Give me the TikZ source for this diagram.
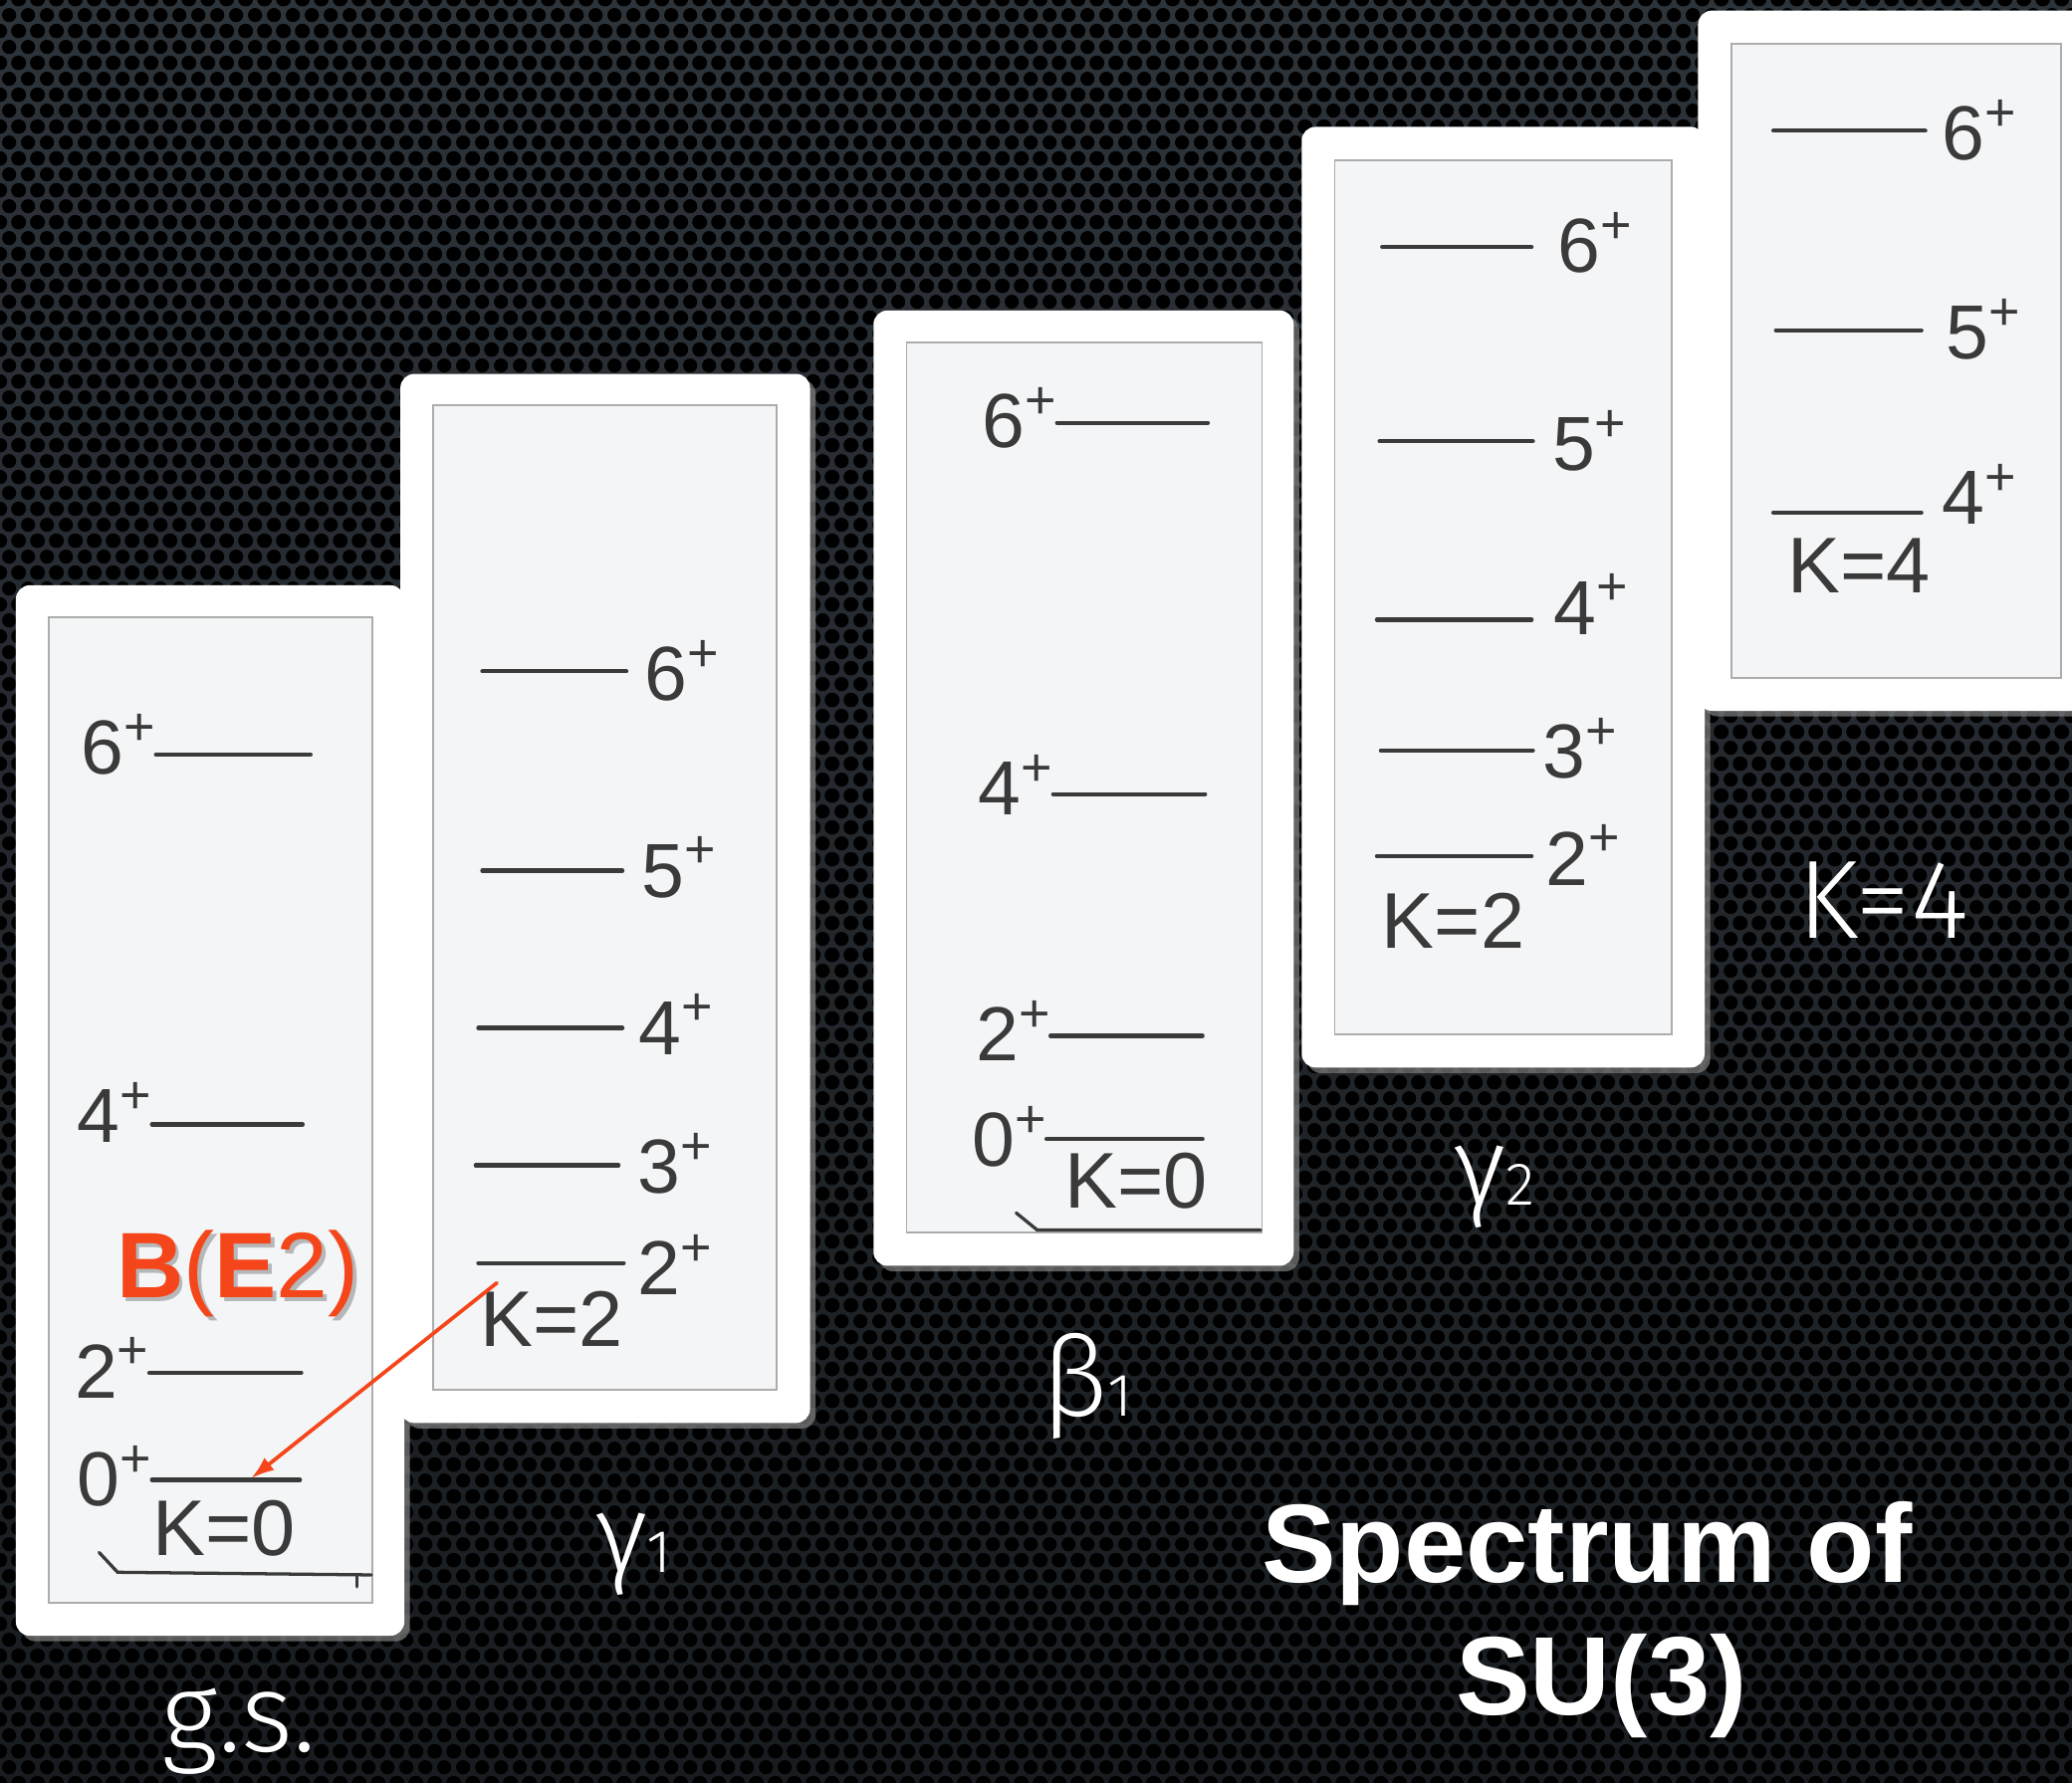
\documentclass[tikz,border=0pt]{standalone}
\usepackage{fontspec}
\setmainfont{Liberation Sans}
\IfFontExistsTF{Fira Sans Light}
    {\newfontfamily\thinfont{Fira Sans Light}}
    {\newfontfamily\thinfont{Liberation Sans}}
\usetikzlibrary{
    arrows.meta,
    calc,
    positioning,
    patterns,
    shadows
}

\definecolor{meshtop}{HTML}{2C3339}
\definecolor{meshbottom}{HTML}{181C20}
\definecolor{paper}{HTML}{F3F5F6}
\definecolor{ink}{HTML}{3A3A3A}
\definecolor{be2red}{HTML}{F5461B}

% perforated backdrop
\pgfdeclarepatternformonly{hexholes}
    {\pgfqpoint{0pt}{0pt}}
    {\pgfqpoint{4pt}{6.928pt}}
    {\pgfqpoint{4pt}{6.928pt}}
    {
        \pgfpathcircle{\pgfqpoint{0pt}{0pt}}{1.55pt}
        \pgfpathcircle{\pgfqpoint{4pt}{0pt}}{1.55pt}
        \pgfpathcircle{\pgfqpoint{0pt}{6.928pt}}{1.55pt}
        \pgfpathcircle{\pgfqpoint{4pt}{6.928pt}}{1.55pt}
        \pgfpathcircle{\pgfqpoint{2pt}{3.464pt}}{1.55pt}
        \pgfusepath{fill}
    }

\begin{document}
\begin{tikzpicture}[
    x=0.01cm,
    y=-0.01cm,
    >=Latex,
    line cap=round,
    panel/.style={fill=white, rounded corners=3pt,
        drop shadow={shadow xshift=1.2pt, shadow yshift=-1.2pt, opacity=0.7}},
    sheet/.style={fill=paper, draw=gray!65, line width=0.4pt},
    level/.style={draw=ink, line width=0.9pt},
    spin/.style={text=ink, inner sep=0pt, font=\fontsize{16.5}{18}\selectfont},
    kband/.style={text=ink, inner sep=0pt, font=\fontsize{17}{19}\selectfont},
    band/.style={text=white, inner sep=0pt, font=\thinfont\fontsize{24}{28}\selectfont},
    title/.style={text=white, inner sep=0pt, font=\bfseries\fontsize{24}{28}\selectfont},
    transition/.style={->, draw=be2red, line width=0.8pt,
        >={Latex[length=5pt,width=3.4pt]}}
]

\useasboundingbox (0,0) rectangle (1568,1349);

% -------------------------------------------------
% Backdrop
% -------------------------------------------------

\shade[top color=meshtop, bottom color=meshbottom]
    (0,0) rectangle (1568,1349);
\fill[pattern=hexholes, pattern color=black]
    (0,0) rectangle (1568,1349);

% -------------------------------------------------
% Ground state band
% -------------------------------------------------

\fill[panel] (12,443) rectangle (306,1238);
\filldraw[sheet] (37,467) rectangle (282,1213);

\draw[level] (118,571) coordinate (gs6l) -- (235,571) coordinate (gs6r);
\node[spin, anchor=base east] (gs6) at ($(gs6l)+(2,15)$) {6\textsuperscript{+}};

\draw[level] (115,851) coordinate (gs4l) -- (229,851) coordinate (gs4r);
\node[spin, anchor=base east] (gs4) at ($(gs4l)+(2,14)$) {4\textsuperscript{+}};

\draw[level] (113,1039) coordinate (gs2l) -- (228,1039) coordinate (gs2r);
\node[spin, anchor=base east] (gs2) at ($(gs2l)+(2,19)$) {2\textsuperscript{+}};

\draw[level] (115,1120) coordinate (gs0l) -- (227,1120) coordinate (gs0r);
\node[spin, anchor=base east] (gs0) at ($(gs0l)+(2,20)$) {0\textsuperscript{+}};

\node[kband, anchor=base west] (gsk) at (115,1177) {K=0};

% band bracket
\draw[level, line width=0.7pt]
    (75,1175) -- (89,1190) -- (281,1192);
\draw[level, line width=0.7pt]
    (270,1192) -- (270,1201);

% -------------------------------------------------
% First gamma band
% -------------------------------------------------

\fill[panel] (303,283) rectangle (613,1077);
\filldraw[sheet] (328,307) rectangle (588,1052);

\draw[level] (365,508) coordinate (ga6l) -- (474,508) coordinate (ga6r);
\node[spin, anchor=base west] (ga6) at ($(ga6r)+(13,22)$) {6\textsuperscript{+}};

\draw[level] (365,659) coordinate (ga5l) -- (471,659) coordinate (ga5r);
\node[spin, anchor=base west] (ga5) at ($(ga5r)+(14,20)$) {5\textsuperscript{+}};

\draw[level] (362,778) coordinate (ga4l) -- (471,778) coordinate (ga4r);
\node[spin, anchor=base west] (ga4) at ($(ga4r)+(12,20)$) {4\textsuperscript{+}};

\draw[level] (360,882) coordinate (ga3l) -- (468,882) coordinate (ga3r);
\node[spin, anchor=base west] (ga3) at ($(ga3r)+(14,21)$) {3\textsuperscript{+}};

\draw[level] (362,956) coordinate (ga2l) -- (472,956) coordinate (ga2r);
\node[spin, anchor=base west] (ga2) at ($(ga2r)+(10,24)$) {2\textsuperscript{+}};

\node[kband, anchor=base west] (gak) at (363,1019) {K=2};

% -------------------------------------------------
% Beta band
% -------------------------------------------------

\fill[panel] (661,235) rectangle (979,958);
\filldraw[sheet] (686,259) rectangle (955,933);

\draw[level] (800,320) coordinate (be6l) -- (914,320) coordinate (be6r);
\node[spin, anchor=base east] (be6) at ($(be6l)+(2,19)$) {6\textsuperscript{+}};

\draw[level] (797,601) coordinate (be4l) -- (912,601) coordinate (be4r);
\node[spin, anchor=base east] (be4) at ($(be4l)+(2,16)$) {4\textsuperscript{+}};

\draw[level] (795,784) coordinate (be2l) -- (910,784) coordinate (be2r);
\node[spin, anchor=base east] (be2) at ($(be2l)+(2,19)$) {2\textsuperscript{+}};

\draw[level] (792,862) coordinate (be0l) -- (910,862) coordinate (be0r);
\node[spin, anchor=base east] (be0) at ($(be0l)+(2,21)$) {0\textsuperscript{+}};

\node[kband, anchor=base west] (bek) at (805,914) {K=0};

% band bracket
\draw[level, line width=0.7pt]
    (769,918) -- (785,931) -- (954,931);

% -------------------------------------------------
% Second gamma band
% -------------------------------------------------

\fill[panel] (985,96) rectangle (1290,808);
\filldraw[sheet] (1010,121) rectangle (1265,783);

\draw[level] (1046,187) coordinate (gb6l) -- (1159,187) coordinate (gb6r);
\node[spin, anchor=base west] (gb6) at ($(gb6r)+(19,19)$) {6\textsuperscript{+}};

\draw[level] (1044,334) coordinate (gb5l) -- (1160,334) coordinate (gb5r);
\node[spin, anchor=base west] (gb5) at ($(gb5r)+(14,22)$) {5\textsuperscript{+}};

\draw[level] (1042,469) coordinate (gb4l) -- (1159,469) coordinate (gb4r);
\node[spin, anchor=base west] (gb4) at ($(gb4r)+(16,11)$) {4\textsuperscript{+}};

\draw[level] (1045,568) coordinate (gb3l) -- (1160,568) coordinate (gb3r);
\node[spin, anchor=base west] (gb3) at ($(gb3r)+(7,21)$) {3\textsuperscript{+}};

\draw[level] (1042,648) coordinate (gb2l) -- (1159,648) coordinate (gb2r);
\node[spin, anchor=base west] (gb2) at ($(gb2r)+(10,22)$) {2\textsuperscript{+}};

\node[kband, anchor=base west] (gbk) at (1045,718) {K=2};

% -------------------------------------------------
% K=4 band
% -------------------------------------------------

\fill[panel] (1285,8) rectangle (1590,538);
\filldraw[sheet] (1310,33) rectangle (1560,513);

\draw[level] (1342,99) coordinate (kf6l) -- (1457,99) coordinate (kf6r);
\node[spin, anchor=base west] (kf6) at ($(kf6r)+(12,22)$) {6\textsuperscript{+}};

\draw[level] (1344,250) coordinate (kf5l) -- (1454,250) coordinate (kf5r);
\node[spin, anchor=base west] (kf5) at ($(kf5r)+(18,22)$) {5\textsuperscript{+}};

\draw[level] (1342,388) coordinate (kf4l) -- (1454,388) coordinate (kf4r);
\node[spin, anchor=base west] (kf4) at ($(kf4r)+(15,9)$) {4\textsuperscript{+}};

\node[kband, anchor=base west] (kfk) at (1352,449) {K=4};

% -------------------------------------------------
% B(E2) transition
% -------------------------------------------------

\node[anchor=base, inner sep=0pt, text=black, opacity=0.25,
      font=\fontsize{20}{22}\selectfont] (be2shadow) at (183,985)
    {\textbf{B}(\textbf{E}2)};
\node[anchor=base, inner sep=0pt, text=be2red,
      font=\fontsize{20}{22}\selectfont] (be2) at (180,982)
    {\textbf{B}(\textbf{E}2)};

\coordinate (gak2) at (376,971);
\coordinate (gs0hit) at (190,1119);
\draw[transition] (gak2) -- (gs0hit);

% -------------------------------------------------
% Band names and title
% -------------------------------------------------

\node[band, anchor=base] (gsname) at (181,1326) {g.s.};
\node[band, anchor=base west] (ga1name) at (450,1190)
    {γ{\fontsize{13}{14}\selectfont 1}};
\node[band, anchor=base west] (be1name) at (788,1072)
    {β{\fontsize{13}{14}\selectfont 1}};
\node[band, anchor=base west] (gb2name) at (1100,912)
    {γ{\fontsize{13}{14}\selectfont 2}};
\node[band, anchor=base west] (kfname) at (1360,710) {K=4};

\node[title, anchor=base] (title) at (1201,1198) {Spectrum of};
\node[title, anchor=base] (titlesu) at (1212,1298) {SU(3)};

\end{tikzpicture}
\end{document}
